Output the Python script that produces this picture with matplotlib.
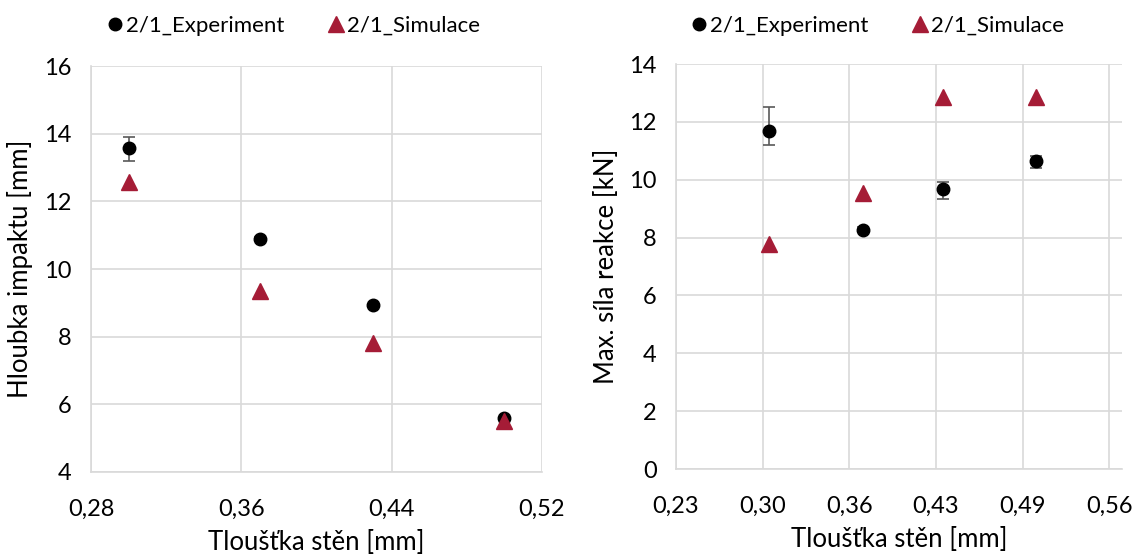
import numpy as np
import matplotlib.pyplot as plt
from matplotlib.ticker import FixedLocator
from matplotlib.lines import Line2D

plt.rcParams['font.family'] = ['Lato', 'DejaVu Sans']

# data
thickness = [0.30, 0.37, 0.43, 0.50]

depth_exp = [13.58, 10.89, 8.93, 5.59]
depth_exp_lo = [0.39, 0.06, 0.05, 0.05]
depth_exp_hi = [0.31, 0.06, 0.05, 0.05]
depth_sim = [12.58, 9.36, 7.80, 5.52]

force_exp = [11.70, 8.27, 9.69, 10.66]
force_exp_lo = [0.50, 0.08, 0.37, 0.25]
force_exp_hi = [0.80, 0.08, 0.22, 0.15]
force_sim = [7.77, 9.54, 12.87, 12.87]

left_xticks = [0.28, 0.36, 0.44, 0.52]
left_xlabels = ['0,28', '0,36', '0,44', '0,52']
right_xticks = [0.23, 0.295, 0.36, 0.425, 0.49, 0.555]
right_xlabels = ['0,23', '0,30', '0,36', '0,43', '0,49', '0,56']

W, H = 1133, 554
fig = plt.figure(figsize=(W / 100, H / 100), dpi=100)

ax1 = fig.add_axes([91 / W, (H - 472) / H, 451 / W, 406 / H])
ax2 = fig.add_axes([676 / W, (H - 469) / H, 446 / W, 405 / H])

grid_c = '#D9D9D9'
red = '#A51C36'
err_c = '#595959'


def style(ax):
    for s in ['top', 'right']:
        ax.spines[s].set_visible(False)
    for s in ['left', 'bottom']:
        ax.spines[s].set_color(grid_c)
        ax.spines[s].set_linewidth(1.2)
    ax.grid(True, color=grid_c, linewidth=1.2)
    ax.set_axisbelow(True)
    ax.tick_params(length=0, labelsize=17, colors='#000000')
    ax.tick_params(axis='x', pad=19)
    ax.tick_params(axis='y', pad=14)


def draw(ax, y_exp, lo, hi, y_sim):
    ax.errorbar(thickness, y_exp, yerr=[lo, hi], fmt='o', color='black',
                markersize=9, ecolor=err_c, elinewidth=1.2, capsize=4.5,
                capthick=1.2, zorder=3)
    ax.plot(thickness, y_sim, linestyle='none', marker='^', color=red,
            markersize=11, zorder=4)


def labels(ax, xlab, ylab, ylx):
    ax.set_xlabel(xlab, fontsize=18.5, va='center')
    ax.set_ylabel(ylab, fontsize=18.5, va='center')
    ax.xaxis.set_label_coords(0.5, -0.174)
    ax.yaxis.set_label_coords(ylx, 0.5)


draw(ax1, depth_exp, depth_exp_lo, depth_exp_hi, depth_sim)
style(ax1)
ax1.set_xlim(0.28, 0.52)
ax1.set_ylim(4, 16)
ax1.xaxis.set_major_locator(FixedLocator(left_xticks))
ax1.set_xticklabels(left_xlabels)
ax1.set_yticks(np.arange(4, 17, 2))
labels(ax1, 'Tloušťka stěn [mm]', 'Hloubka impaktu [mm]', -0.158)

draw(ax2, force_exp, force_exp_lo, force_exp_hi, force_sim)
style(ax2)
ax2.set_xlim(0.23, 0.5645)
ax2.set_ylim(0, 14)
ax2.xaxis.set_major_locator(FixedLocator(right_xticks))
ax2.set_xticklabels(right_xlabels)
ax2.set_yticks(np.arange(0, 15, 2))
labels(ax2, 'Tloušťka stěn [mm]', 'Max. síla reakce [kN]', -0.155)

handles = [Line2D([], [], linestyle='none', marker='o', color='black', markersize=9),
           Line2D([], [], linestyle='none', marker='^', color=red, markersize=11)]
names = ['2/1_Experiment', '2/1_Simulace']
for cx in [292 / W, 876 / W]:
    fig.legend(handles, names, loc='center', bbox_to_anchor=(cx, 1 - 26 / H), ncol=2,
               frameon=False, fontsize=16, handletextpad=0.0,
               columnspacing=1.8, handlelength=1.0)

fig.savefig('out.png', dpi=100)
